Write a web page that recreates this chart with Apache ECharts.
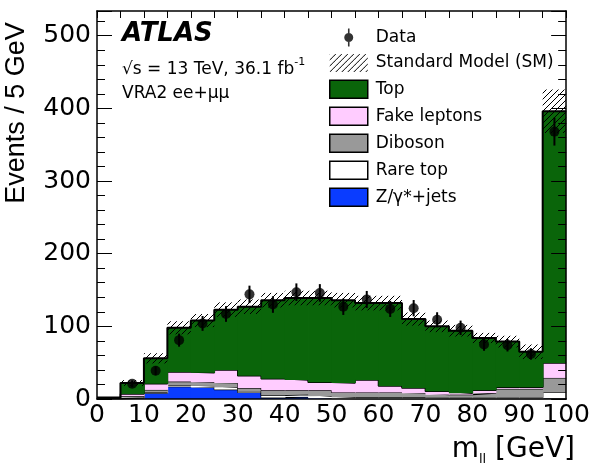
<!DOCTYPE html>
<html><head><meta charset="utf-8">
<script src="https://cdn.jsdelivr.net/npm/echarts@6/dist/echarts.min.js"></script>
<style>html,body{margin:0;padding:0;background:#fff}#c{width:593px;height:466px}</style>
</head><body><div id="c"></div>
<script>
// ---- data ----
const binEdges = [0, 5, 10, 15, 20, 25, 30, 35, 40, 45, 50, 55, 60, 65, 70, 75, 80, 85, 90, 95, 100];
const xTickLabels = [0, 10, 20, 30, 40, 50, 60, 70, 80, 90, 100];
const yTickLabels = [0, 100, 200, 300, 400, 500];
// stack components, bottom to top
const zJets       = [0.3, 1, 8, 17, 16, 13, 9, 2, 3, 1, 0.3, 0.3, 0.3, 0.3, 0.3, 0.3, 0.3, 0.3, 0.3, 1];
const rareTop     = [0.2, 1, 1.5, 2, 2, 3, 2, 3, 3, 3, 2, 2, 2, 2, 1.5, 1.5, 1.5, 1.5, 1.5, 8];
const diboson     = [0.3, 2, 3, 5, 5, 6, 4, 7, 6, 8, 6.7, 6.7, 6.7, 5.7, 4.2, 4.2, 6.2, 12.2, 12.2, 20];
const fakeLeptons = [0.2, 3, 8.5, 13, 13, 18, 17, 16, 14, 11, 13, 17, 9, 7, 4.5, 2, 4, 2, 2, 20.5];
const topQuark    = [1, 15, 35, 61, 72, 83, 95, 108, 113, 116, 114, 106, 114, 95, 89.5, 86, 72, 63, 49, 346.5];
const smUncert    = [0.5, 4, 7, 9, 9, 10, 10, 10, 10, 10, 10, 10, 10, 9, 8, 8, 7, 8, 10, 30];
const dataCounts  = [null, 21, 39, 81, 104, 117, 144, 130, 147, 146, 127, 137, 124, 125, 109, 98, 75, 74, 62, 368];
const dataErr     = [0, 4.6, 6.2, 9, 10.2, 10.8, 12, 11.4, 12.1, 12.1, 11.3, 11.7, 11.1, 11.2, 10.4, 9.9, 8.7, 8.6, 7.9, 19.2];

const FONT = '"DejaVu Sans", "Liberation Sans", sans-serif';

function makeHatch() {
  const c = document.createElement('canvas');
  c.width = 6; c.height = 6;
  const g = c.getContext('2d');
  g.strokeStyle = '#000'; g.lineWidth = 1;
  g.beginPath();
  g.moveTo(0, 6); g.lineTo(6, 0);
  g.moveTo(-1, 1); g.lineTo(1, -1);
  g.moveTo(5, 7); g.lineTo(7, 5);
  g.stroke();
  return c;
}
const hatch = { image: makeHatch(), repeat: 'repeat' };

const components = [
  { name: 'Z/γ*+jets',   values: zJets,       color: '#0a3cff', lw: 1.2 },
  { name: 'Rare top',    values: rareTop,     color: '#ffffff', lw: 1.2 },
  { name: 'Diboson',     values: diboson,     color: '#999999', lw: 1.2 },
  { name: 'Fake leptons',values: fakeLeptons, color: '#ffccff', lw: 1.5 },
  { name: 'Top',         values: topQuark,    color: '#0a650a', lw: 2 }
];

function fillRender(color) {
  return function (params, api) {
    const a = api.coord([api.value(0), api.value(3)]);
    const b = api.coord([api.value(1), api.value(2)]);
    const last = params.dataIndex === params.dataInsideLength - 1;
    return { type: 'rect',
      shape: { x: a[0], y: a[1], width: b[0] - a[0] + (last ? 0 : 0.8), height: b[1] - a[1] },
      style: { fill: color } };
  };
}

const series = [];
const base = binEdges.slice(0, -1).map(() => 0);
components.forEach((comp, k) => {
  const items = comp.values.map((v, i) => [binEdges[i], binEdges[i + 1], base[i], base[i] + v]);
  comp.values.forEach((v, i) => { base[i] += v; });
  // filled boxes
  series.push({
    type: 'custom', name: comp.name, z: 2 + k * 0.1,
    itemStyle: { color: comp.color },
    renderItem: fillRender(comp.color),
    encode: { x: [0, 1], y: [2, 3] },
    data: items
  });
  // step outline (top edge of this component in the stack)
  const outline = base.map((t, i) => [binEdges[i], t]);
  outline.push([binEdges[binEdges.length - 1], base[base.length - 1]]);
  series.push({
    type: 'line', step: 'end', z: 2.05 + k * 0.1, symbol: 'none', silent: true,
    lineStyle: { color: '#000', width: comp.lw }, data: outline
  });
});

// SM total + uncertainty band
const bandItems = base.map((tot, i) => [binEdges[i], binEdges[i + 1], tot - smUncert[i], tot + smUncert[i]]);
series.push({
  type: 'custom', name: 'Standard Model (SM)', z: 3,
  itemStyle: { color: hatch },
  encode: { x: [0, 1], y: [2, 3] },
  renderItem: function (params, api) {
    const a = api.coord([api.value(0), api.value(3)]);
    const b = api.coord([api.value(1), api.value(2)]);
    return { type: 'rect', shape: { x: a[0], y: a[1], width: b[0] - a[0], height: b[1] - a[1] },
             style: { fill: hatch } };
  },
  data: bandItems
});

// data points
const dataPts = [], errItems = [];
dataCounts.forEach((v, i) => {
  if (v === null) return;
  const xc = (binEdges[i] + binEdges[i + 1]) / 2;
  dataPts.push([xc, v]);
  errItems.push([xc, v - dataErr[i], v + dataErr[i]]);
});
series.push({
  type: 'custom', z: 4,
  encode: { x: 0, y: [1, 2] },
  renderItem: function (params, api) {
    const a = api.coord([api.value(0), api.value(1)]);
    const b = api.coord([api.value(0), api.value(2)]);
    return { type: 'line', shape: { x1: a[0], y1: a[1], x2: b[0], y2: b[1] }, style: { stroke: '#000', lineWidth: 2 } };
  },
  data: errItems
});
series.push({
  type: 'scatter', name: 'Data', z: 5, symbol: 'circle', symbolSize: 10,
  itemStyle: { color: '#000' }, data: dataPts
});

const dataIcon = 'path://M0,0L0.01,0L0,0.01Z M38,18L37.99,18L38,17.99Z M18.2,0H19.8V18H18.2Z M19,4.5A4.5,4.5 0 1 1 18.99,4.5Z';

const option = {
  animation: false,
  backgroundColor: '#fff',
  grid: { left: 97, right: 18, top: 11, bottom: 67 },
  xAxis: [
    { type: 'value', min: 0, max: 100, interval: 10, position: 'bottom', z: 10,
      axisLine: { show: true, onZero: false, lineStyle: { color: '#000', width: 1.5 } },
      axisTick: { show: false }, splitLine: { show: false },
      axisLabel: { margin: 4, color: '#000', fontFamily: FONT, fontSize: 25,
        formatter: v => xTickLabels.includes(v) ? String(v) : '' } },
    { type: 'value', min: 0, max: 100, interval: 5, position: 'top', z: 10,
      axisLine: { show: true, onZero: false, lineStyle: { color: '#000', width: 1.5 } },
      axisTick: { show: true, inside: true, length: 7, lineStyle: { color: '#000', width: 1 } },
      axisLabel: { show: false }, splitLine: { show: false } }
  ],
  yAxis: [
    { type: 'value', min: 0, max: 534, interval: 100, position: 'left', z: 10,
      axisLine: { show: true, onZero: false, lineStyle: { color: '#000', width: 1.5 } },
      axisTick: { show: true, inside: true, length: 15, lineStyle: { color: '#000', width: 1 } },
      minorTick: { show: true, splitNumber: 5, length: 8, lineStyle: { color: '#000', width: 1 } },
      splitLine: { show: false }, minorSplitLine: { show: false },
      axisLabel: { margin: 6, color: '#000', fontFamily: FONT, fontSize: 25,
        formatter: v => yTickLabels.includes(v) ? String(v) : '' } },
    { type: 'value', min: 0, max: 534, interval: 100, position: 'right', z: 10,
      axisLine: { show: true, onZero: false, lineStyle: { color: '#000', width: 1.5 } },
      axisTick: { show: true, inside: true, length: 15, lineStyle: { color: '#000', width: 1 } },
      minorTick: { show: true, splitNumber: 5, length: 8, lineStyle: { color: '#000', width: 1 } },
      splitLine: { show: false }, axisLabel: { show: false } }
  ],
  legend: {
    orient: 'vertical', left: 329, top: 28.5, padding: 0,
    itemWidth: 38, itemHeight: 18, itemGap: 7.5, selectedMode: false,
    textStyle: { fontFamily: FONT, fontSize: 17, color: '#000', lineHeight: 17, padding: [0, 0, 0, 3] },
    data: [
      { name: 'Data', icon: dataIcon, itemStyle: { color: '#000', borderWidth: 0 } },
      { name: 'Standard Model (SM)', icon: 'rect', itemStyle: { color: hatch, borderWidth: 0 } },
      { name: 'Top', icon: 'rect', itemStyle: { color: '#0a650a', borderColor: '#000', borderWidth: 1.5 } },
      { name: 'Fake leptons', icon: 'rect', itemStyle: { color: '#ffccff', borderColor: '#000', borderWidth: 1.5 } },
      { name: 'Diboson', icon: 'rect', itemStyle: { color: '#999999', borderColor: '#000', borderWidth: 1.5 } },
      { name: 'Rare top', icon: 'rect', itemStyle: { color: '#ffffff', borderColor: '#000', borderWidth: 1.5 } },
      { name: 'Z/γ*+jets', icon: 'rect', itemStyle: { color: '#0a3cff', borderColor: '#000', borderWidth: 1.5 } }
    ]
  },
  graphic: [
    { type: 'text', left: 122, top: 21, z: 20,
      style: { text: 'ATLAS', font: 'italic bold 26px ' + FONT, fill: '#000' } },
    { type: 'text', left: 122, top: 57, z: 20,
      style: { text: '{a|√s = 13 TeV, 36.1 fb}{s|-1}', fill: '#000',
        rich: { a: { fontFamily: FONT, fontSize: 17, lineHeight: 21, verticalAlign: 'bottom' },
                s: { fontFamily: FONT, fontSize: 11, lineHeight: 21, verticalAlign: 'top' } } } },
    { type: 'text', left: 122, top: 85, z: 20,
      style: { text: 'VRA2 ee+μμ', font: '17px ' + FONT, fill: '#000' } },
    { type: 'text', x: 17, y: 113, rotation: Math.PI / 2, z: 20,
      style: { text: 'Events / 5 GeV', font: '27px "Liberation Sans", Arial, sans-serif', fill: '#000',
        align: 'center', verticalAlign: 'middle' } },
    { type: 'text', right: 18, top: 436, z: 20,
      style: { text: '{m|m}{s|ll}{m| [GeV]}', fill: '#000',
        rich: { m: { fontFamily: FONT, fontSize: 28, lineHeight: 32 },
                s: { fontFamily: FONT, fontSize: 13, lineHeight: 32, verticalAlign: 'bottom' } } } }
  ],
  series: series
};

const chart = echarts.init(document.getElementById('c'), null, { renderer: 'canvas' });
chart.setOption(option);
</script>
</body></html>
